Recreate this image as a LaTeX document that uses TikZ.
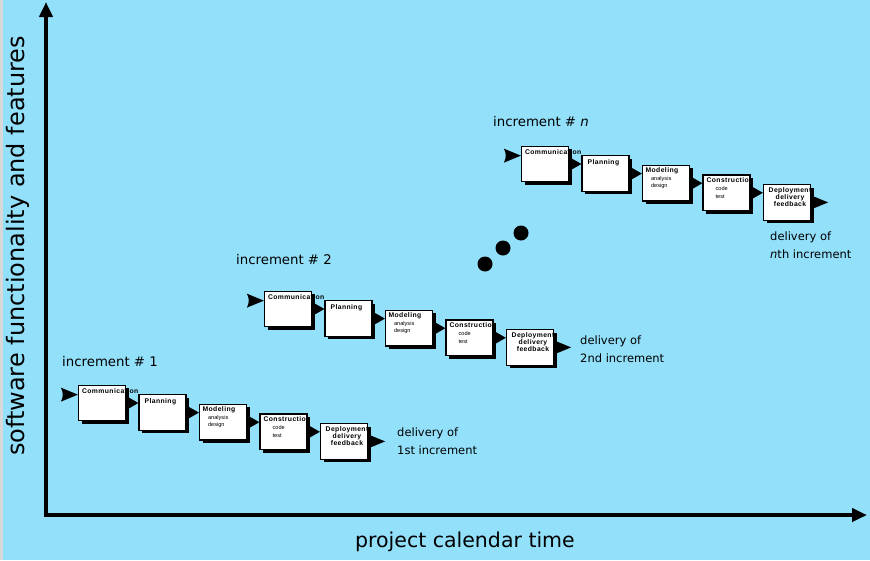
\documentclass[tikz,border=0pt]{standalone}
\usepackage{fontspec}
\setmainfont{DejaVu Sans}
\newfontfamily\boxfont[LetterSpace=6]{Liberation Sans}
\newfontfamily\subfont{Liberation Sans}
\usetikzlibrary{arrows.meta,shadows,calc}
\definecolor{bgblue}{RGB}{147,224,251}
\definecolor{edgegray}{RGB}{216,216,216}

% connector: black wedge from point #1 to tip point #2
\newcommand\wedgeconn[2]{%
  \fill[conn] ($(#1)+(0,-7)$) -- (#2) -- ($(#1)+(0,7)$) .. controls ($(#1)+(2.5,2)$) and ($(#1)+(2.5,-2)$) .. cycle;
}

\newcommand\stagerow[3]{%
  % #1 suffix, #2 x, #3 y of the Communication box's top-left corner
  \node[stage] (c#1) at (#2+24, #3+18) {};
  \node[stage] (p#1) at (#2+24+60.5, #3+18+9.6) {};
  \node[stage] (m#1) at (#2+24+121, #3+18+19.2) {};
  \node[stage] (k#1) at (#2+24+181.5, #3+18+28.8) {};
  \node[stage] (d#1) at (#2+24+242, #3+18+38.4) {};
  \coordinate (s#1) at ($(c#1.north west)+(-17,10)$);
  \coordinate (e#1) at ($(d#1.east)+(17,0)$);
  \wedgeconn{s#1}{s#1 -| c#1.west}
  \wedgeconn{c#1.east}{c#1.east -| p#1.west}
  \wedgeconn{p#1.east}{p#1.east -| m#1.west}
  \wedgeconn{m#1.east}{m#1.east -| k#1.west}
  \wedgeconn{k#1.east}{k#1.east -| d#1.west}
  \wedgeconn{d#1.east}{e#1}
  \node[ttl] (tc#1) at ($(c#1.north west)+(4,4)$) {Communication};
  \node[ttl] (tp#1) at ($(p#1.north west)+(6,4)$) {Planning};
  \node[ttl] (tm#1) at ($(m#1.north west)+(3.5,3)$) {Modeling};
  \node[sub] (sm#1) at ($(m#1.north west)+(9,11)$) {analysis\\design};
  \node[ttl] (tk#1) at ($(k#1.north west)+(4,3)$) {Construction};
  \node[sub] (sk#1) at ($(k#1.north west)+(13,12)$) {code\\test};
  \node[ttl, anchor=north, align=center] (td#1) at ($(d#1.north)+(3,3)$) {Deployment\\delivery\\feedback};
}

\begin{document}
\begin{tikzpicture}[x=1pt,y=-1pt,
  stage/.style={draw=black, line width=1.2pt, fill=white, minimum width=47pt,
    minimum height=35.5pt, inner sep=0pt,
    drop shadow={shadow xshift=3pt, shadow yshift=-3pt, fill=black, opacity=1}},
  ttl/.style={font=\boxfont\bfseries\fontsize{6.8}{7.4}\selectfont, inner sep=0pt, anchor=north west},
  sub/.style={font=\subfont\fontsize{5.6}{7.8}\selectfont, inner sep=0pt, anchor=north west, align=left},
  conn/.style={fill=black},
  axis/.style={line width=4.5pt, {Triangle[length=15pt,width=13pt]}-{Triangle[length=15pt,width=13pt]}},
  lbl/.style={font=\fontsize{13.3}{16}\selectfont, inner sep=0pt, anchor=west},
  dlv/.style={font=\fontsize{11.5}{18}\selectfont, inner sep=0pt, anchor=north west, align=left},
  dot/.style={circle, fill=black, minimum size=15pt, inner sep=0pt}]

\fill[edgegray] (0,0) rectangle (870,560);
\fill[bgblue] (3,0) rectangle (870,560);
\useasboundingbox (0,0) rectangle (870,560);

\coordinate (O) at (46,515);
\coordinate (Ytop) at (46,2);
\coordinate (Xend) at (867,515);
\draw[axis] (Ytop) -- (O) -- (Xend);

\node[rotate=90, font=\fontsize{24}{28}\selectfont, inner sep=0pt] (ylab) at (18,246) {software functionality and features};
\node[font=\fontsize{20.5}{24}\selectfont, inner sep=0pt] (xlab) at (465,542) {project calendar time};

\stagerow{1}{78}{385}
\stagerow{2}{264}{291}
\stagerow{n}{521}{146}

\node[lbl] (i1) at (62,362) {increment \# 1};
\node[lbl] (i2) at (236,260) {increment \# 2};
\node[lbl] (in) at (493,122) {increment \# \textit{n}};

\node[dlv] (v1) at (397,428) {delivery of\\1st increment};
\node[dlv] (v2) at (580,336) {delivery of\\2nd increment};
\node[dlv] (vn) at (770,232) {delivery of\\\textit{n}th increment};

\node[dot] (dt1) at (485,264) {};
\node[dot] (dt2) at (503,248) {};
\node[dot] (dt3) at (521,233) {};
\end{tikzpicture}
\end{document}
